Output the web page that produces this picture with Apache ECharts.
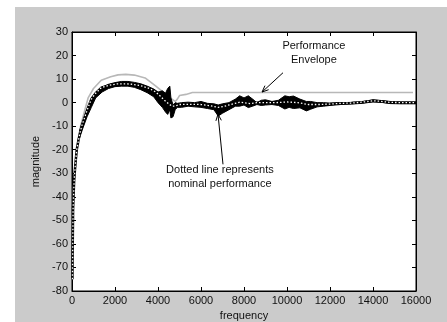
<!DOCTYPE html>
<html><head><meta charset="utf-8">
<script src="https://cdn.jsdelivr.net/npm/echarts@6/dist/echarts.min.js"></script>
<style>html,body{margin:0;padding:0;background:#fff}#c{width:447px;height:322px}</style>
</head><body><div id="c"></div>
<script>
// ---- data ----
const xTicks = [0,2000,4000,6000,8000,10000,12000,14000,16000];
const yTicks = [-80,-70,-60,-50,-40,-30,-20,-10,0,10,20,30];

const envFreq = [40,60,140,250,400,600,750,1000,1360,1800,2140,2500,2900,3400,3900,4100,4400,4650,4800,4900,5000,5300,5600,15860];
const envMag  = [-55,-37,-29,-18,-10,-3,2,6,9.5,11,11.8,12,11.7,10.5,7,5.5,3.5,1.5,0.5,1.5,3,3.5,4.3,4.3];

const nomFreq = [20,50,100,150,220,300,370,450,600,750,900,1100,1360,1700,2100,2500,2800,3200,3600,3900,4100,4300,4500,4650,4800,5000,5500,6000,6400,6800,7100,7500,7800,8300,8600,9000,9500,10000,10500,11000,11500,12000,12500,13000,13500,14000,14300,14800,15500,16000];
const nomMag  = [-75,-45,-33,-27,-20,-16,-13,-10,-6,-2,1.5,4,6.3,7.3,8,8,7.8,7.2,6,4.5,2.8,1,-0.5,-1.5,-1.5,-0.8,-0.7,-0.8,-1.3,-2,-1.5,-0.5,0.2,-0.4,0,0,0,0.3,0,-0.8,-0.8,-0.6,-0.3,-0.2,0.2,0.8,0.6,0.1,0,0];

const bandFreq  = [350,500,700,900,1100,1400,1700,2000,2300,2600,2900,3200,3500,3800,4000,4200,4350,4450,4550,4600,4700,4800,4900,5100,5400,5700,6000,6300,6600,6800,7000,7300,7600,7800,8000,8200,8400,8600,8800,9000,9300,9600,9900,10100,10300,10600,10900,11100,11400,11700,12000,12500,13000,13500,14000,14400,14800,15300,16000];
const bandUpper = [-12,-8,-3,1,4,6.5,7.8,8.5,9,9,8.6,8,7,5.8,4.5,5,4,6,7,2,-1,0,-0.3,0,0.2,0,0.5,-0.3,-0.5,-1,-0.5,0,1.5,2.9,2,2.9,1.5,0,1,1.2,0.5,1,2.9,2.5,2.8,1.5,0.5,0.5,0,0,-0.2,0,0.1,0.4,1.2,0.9,0.5,0.3,0.3];
const bandLower = [-15,-11,-6,-2,2,4.5,6,6.8,7,7,6.5,5.5,4.2,2.5,0,-2,-4,-5,-3,-6.5,-6,-3,-2,-2,-1.5,-1.8,-2,-2.5,-3,-5.7,-4.5,-3,-1.5,-1.5,-1,-2.1,-1.5,-0.8,-1.2,-1,-0.8,-1.2,-2.7,-2,-2.5,-2.2,-3.5,-2.8,-1.8,-1.5,-1.2,-0.8,-0.6,-0.3,0.3,0.1,-0.4,-0.5,-0.5];

// annotation anchors (data coordinates)
const envTextPos = [11250, 21.2];
const envArrowTail = [9814, 12.7];
const envArrowTip = [8840, 4.5];
const nomTextPos = [6880, -31.5];
const nomArrowTail = [7023, -26.2];
const nomArrowTip = [6790, -4.9];

// ---- chart ----
const zip = (a,b)=>a.map((v,i)=>[v,b[i]]);
const chart = echarts.init(document.getElementById('c'), null, {renderer:'canvas'});
const font = 'Liberation Sans, Arial, sans-serif';
const axisCommon = {
  axisLine:{show:true, onZero:false, lineStyle:{color:'#000', width:1}},
  axisTick:{show:true, inside:true, length:4, lineStyle:{color:'#000'}},
  splitLine:{show:false}
};
const bgRect = {type:'rect', left:15, top:7, shape:{width:432, height:315}, style:{fill:'#cbcbcb'}, z:-10};
chart.setOption({
  animation:false,
  backgroundColor:'#fff',
  graphic:[bgRect],
  grid:{left:72, top:32, right:31, bottom:31, show:true, backgroundColor:'#fff', borderColor:'#000', borderWidth:1,
        containLabel:false, outerBoundsMode:'none'},
  xAxis:[
    Object.assign({type:'value', min:0, max:16000, interval:2000, position:'bottom',
      name:'frequency', nameLocation:'middle', nameGap:19,
      nameTextStyle:{fontFamily:font, fontSize:11, color:'#111'},
      axisLabel:{fontFamily:font, fontSize:11, color:'#111', margin:4,
        formatter:v=>xTicks.includes(v)?String(v):''}}, axisCommon),
    Object.assign({type:'value', min:0, max:16000, interval:2000, position:'top', axisLabel:{show:false}}, axisCommon)
  ],
  yAxis:[
    Object.assign({type:'value', min:-80, max:30, interval:10, position:'left',
      name:'magnitude', nameLocation:'middle', nameGap:14, nameRotate:90,
      nameTextStyle:{fontFamily:font, fontSize:11, color:'#111'},
      axisLabel:{fontFamily:font, fontSize:11, color:'#111', margin:4,
        formatter:v=>yTicks.includes(v)?String(v):''}}, axisCommon),
    Object.assign({type:'value', min:-80, max:30, interval:10, position:'right', axisLabel:{show:false}}, axisCommon)
  ],
  series:[
    {type:'line', name:'envelope', data:zip(envFreq, envMag), showSymbol:false, symbol:'none',
     lineStyle:{color:'#b8b8b8', width:1.6}, z:2},
    {type:'custom', name:'band', data:zip(bandFreq, bandUpper), z:3,
     renderItem:function(params, api){
       if (params.dataIndex !== 0) return null;
       const pts = [];
       for (let i=0;i<bandFreq.length;i++) pts.push(api.coord([bandFreq[i], bandUpper[i]]));
       for (let i=bandFreq.length-1;i>=0;i--) pts.push(api.coord([bandFreq[i], bandLower[i]]));
       return {type:'polygon', shape:{points:pts}, style:{fill:'#000', stroke:'#000', lineWidth:1}};
     }},
    {type:'line', name:'nominalBase', data:zip(nomFreq, nomMag), symbol:'none',
     lineStyle:{color:'#000', width:2.5}, z:4},
    {type:'line', name:'nominal', data:zip(nomFreq, nomMag), symbol:'none',
     lineStyle:{color:'#fff', width:1.3, type:[1.5,2]}, z:5}
  ]
});

function px(p){ return chart.convertToPixel({xAxisIndex:0, yAxisIndex:0}, p); }
function arrow(tail, tip){
  const a = px(tail), b = px(tip);
  const ang = Math.atan2(b[1]-a[1], b[0]-a[0]);
  const L = 7, w = 0.4;
  const p1 = [b[0]-L*Math.cos(ang-w), b[1]-L*Math.sin(ang-w)];
  const p2 = [b[0]-L*Math.cos(ang+w), b[1]-L*Math.sin(ang+w)];
  return [
    {type:'line', shape:{x1:a[0], y1:a[1], x2:b[0], y2:b[1]}, style:{stroke:'#000', lineWidth:1}, z:20},
    {type:'polyline', shape:{points:[p1, b, p2]}, style:{stroke:'#000', lineWidth:1, fill:null}, z:20}
  ];
}
const et = px(envTextPos), nt = px(nomTextPos);
const textStyle = {fontFamily:font, fontSize:11, fill:'#111', align:'center', verticalAlign:'middle', lineHeight:14};
chart.setOption({
  graphic:[
    bgRect,
    {type:'text', x:et[0], y:et[1], style:Object.assign({text:'Performance\nEnvelope'}, textStyle), z:20},
    {type:'text', x:nt[0], y:nt[1], style:Object.assign({text:'Dotted line represents\nnominal performance'}, textStyle), z:20}
  ].concat(arrow(envArrowTail, envArrowTip)).concat(arrow(nomArrowTail, nomArrowTip))
});
</script>
</body></html>
